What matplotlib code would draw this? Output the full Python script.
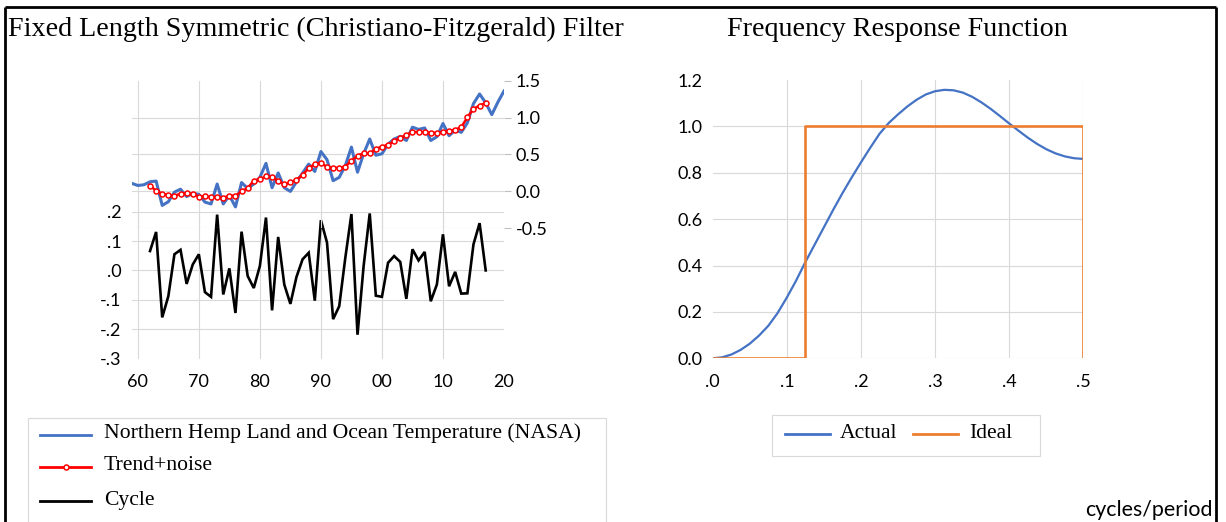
import matplotlib
matplotlib.use("Agg")
import matplotlib.pyplot as plt
from matplotlib.lines import Line2D
from matplotlib.patches import Rectangle

# ---------------- data ----------------
years_temp = list(range(1959, 2021))
temp = [0.11, 0.08, 0.09, 0.13, 0.14, -0.19, -0.14, -0.01, 0.03, -0.07,
        -0.025, -0.04, -0.145, -0.17, 0.10, -0.17, -0.055, -0.21, 0.12, 0.04,
        0.10, 0.19, 0.38, 0.05, 0.25, 0.05, 0.00, 0.13, 0.25, 0.37,
        0.27, 0.54, 0.43, 0.145, 0.19, 0.35, 0.60, 0.26, 0.51, 0.71,
        0.49, 0.51, 0.64, 0.71, 0.745, 0.69, 0.87, 0.84, 0.86, 0.69,
        0.74, 0.92, 0.755, 0.83, 0.80, 0.93, 1.19, 1.32, 1.20, 1.04,
        1.21, 1.36]

years_filt = list(range(1962, 2018))
trend = [0.077, 0.009, -0.032, -0.050, -0.059, -0.032, -0.023, -0.036, -0.072, -0.068,
         -0.077, -0.081, -0.086, -0.059, -0.059, 0.000, 0.045, 0.145, 0.167, 0.204,
         0.190, 0.145, 0.095, 0.122, 0.158, 0.222, 0.317, 0.371, 0.380, 0.335,
         0.317, 0.321, 0.335, 0.416, 0.484, 0.516, 0.516, 0.575, 0.606, 0.633,
         0.679, 0.729, 0.765, 0.805, 0.805, 0.805, 0.792, 0.792, 0.810, 0.819,
         0.837, 0.869, 1.005, 1.118, 1.163, 1.200]
cycle = [0.066, 0.131, -0.160, -0.088, 0.055, 0.070, -0.046, 0.020, 0.055, -0.074,
         -0.090, 0.190, -0.082, 0.007, -0.145, 0.132, -0.019, -0.060, 0.015, 0.180,
         -0.136, 0.114, -0.048, -0.114, -0.022, 0.038, 0.060, -0.103, 0.171, 0.095,
         -0.166, -0.122, 0.043, 0.192, -0.219, 0.015, 0.194, -0.086, -0.090, 0.026,
         0.049, 0.029, -0.097, 0.072, 0.034, 0.063, -0.105, -0.048, 0.123, -0.054,
         -0.005, -0.079, -0.078, 0.089, 0.161, 0.000]

freq = [0.0, 0.0125, 0.025, 0.0375, 0.05, 0.0625, 0.075, 0.0875, 0.1, 0.1125,
        0.125, 0.1375, 0.15, 0.1625, 0.175, 0.1875, 0.2, 0.2125, 0.225, 0.2375,
        0.25, 0.2625, 0.275, 0.2875, 0.3, 0.3125, 0.325, 0.3375, 0.35, 0.3625,
        0.375, 0.3875, 0.4, 0.4125, 0.425, 0.4375, 0.45, 0.4625, 0.475, 0.4875, 0.5]
actual = [0.000, 0.004, 0.016, 0.036, 0.063, 0.098, 0.140, 0.195, 0.262, 0.335,
          0.415, 0.490, 0.565, 0.640, 0.712, 0.780, 0.845, 0.908, 0.968, 1.015,
          1.052, 1.086, 1.115, 1.138, 1.152, 1.158, 1.156, 1.146, 1.128, 1.104,
          1.076, 1.045, 1.013, 0.982, 0.952, 0.925, 0.902, 0.884, 0.871, 0.863, 0.860]
ideal_x = [0.0, 0.125, 0.125, 0.5, 0.5]
ideal_y = [0.0, 0.0, 1.0, 1.0, 0.0]

left_title = "Fixed Length Symmetric (Christiano-Fitzgerald) Filter"
right_title = "Frequency Response Function"
series_left = ["Northern Hemp Land and Ocean Temperature (NASA)", "Trend+noise", "Cycle"]
series_right = ["Actual", "Ideal"]
temp_ticks = [-0.5, 0.0, 0.5, 1.0, 1.5]
cycle_ticks = [-0.3, -0.2, -0.1, 0.0, 0.1, 0.2]
cycle_labels = ["-.3", "-.2", "-.1", ".0", ".1", ".2"]
year_ticks = [1960, 1970, 1980, 1990, 2000, 2010, 2020]
year_labels = ["60", "70", "80", "90", "00", "10", "20"]
freq_ticks = [0.0, 0.1, 0.2, 0.3, 0.4, 0.5]
freq_labels = [".0", ".1", ".2", ".3", ".4", ".5"]
resp_ticks = [0.0, 0.2, 0.4, 0.6, 0.8, 1.0, 1.2]

# ---------------- styling ----------------
BLUE = "#4472C4"
ORANGE = "#ED7D31"
GRID = "#D9D9D9"
SERIF = ["Liberation Serif", "DejaVu Serif"]
SANS = ["Lato", "DejaVu Sans"]
TICK_FS = 13

W, H = 1226, 522
fig = plt.figure(figsize=(W / 100, H / 100), dpi=100)
fig.patch.set_facecolor("white")


def fx(x):
    return x / W


def fy(y):
    return 1 - y / H


def axes_px(l, t, r, b):
    ax = fig.add_axes([l / W, 1 - b / H, (r - l) / W, (b - t) / H])
    ax.patch.set_visible(False)
    for s in ax.spines.values():
        s.set_visible(False)
    return ax


def style_ticks(ax):
    for lab in ax.get_xticklabels() + ax.get_yticklabels():
        lab.set_family(SANS)
        lab.set_fontsize(TICK_FS)


# ---- bottom: cycle (left axis) ----
ax_c = axes_px(131.7, 211.7, 504, 358.5)
ax_c.plot(years_filt, cycle, color="black", lw=1.9, solid_joinstyle="miter")
ax_c.set_xlim(1959, 2020)
ax_c.set_ylim(-0.3, 0.2)
ax_c.set_yticks(cycle_ticks)
ax_c.set_yticklabels(cycle_labels)
ax_c.set_xticks(year_ticks)
ax_c.set_xticklabels(year_labels)
ax_c.tick_params(axis="y", length=0, pad=7.5)
ax_c.tick_params(axis="x", length=0, pad=11)
ax_c.grid(True, color=GRID, lw=0.8)
ax_c.get_ygridlines()[0].set_visible(False)
ax_c.get_xgridlines()[-1].set_visible(False)
style_ticks(ax_c)

# ---- top: temperature & trend (right axis) ----
ax_t = axes_px(131.7, 80.7, 504, 228.3)
ax_t.plot(years_temp, temp, color=BLUE, lw=2.2)
ax_t.plot(years_filt, trend, color="red", lw=1.8, marker="o", ms=3.6,
          mfc="white", mec="red", mew=1.1)
ax_t.set_xlim(1959, 2020)
ax_t.set_ylim(-0.5, 1.5)
ax_t.set_xticks(year_ticks[:-1])
ax_t.tick_params(axis="x", length=0, labelbottom=False)
ax_t.yaxis.tick_right()
ax_t.set_yticks(temp_ticks)
ax_t.set_yticklabels([f"{v:.1f}" for v in temp_ticks])
ax_t.tick_params(axis="y", length=5, width=0.8, color="#BFBFBF", pad=3.5)
ax_t.grid(True, color=GRID, lw=0.8)
ax_t.get_ygridlines()[-1].set_visible(False)
style_ticks(ax_t)

# ---- right: frequency response ----
ax_f = axes_px(712.7, 80.1, 1083.3, 358.3)
ax_f.plot(freq, actual, color=BLUE, lw=1.6)
ax_f.plot(ideal_x, ideal_y, color=ORANGE, lw=1.9)
ax_f.set_xlim(0, 0.5)
ax_f.set_ylim(0, 1.2)
ax_f.set_xticks(freq_ticks)
ax_f.set_xticklabels(freq_labels)
ax_f.set_yticks(resp_ticks)
ax_f.set_yticklabels([f"{v:.1f}" for v in resp_ticks])
ax_f.tick_params(axis="both", length=0)
ax_f.tick_params(axis="y", pad=7.5)
ax_f.tick_params(axis="x", pad=11)
ax_f.grid(True, color=GRID, lw=0.8)
ax_f.get_ygridlines()[-1].set_visible(False)
ax_f.get_xgridlines()[0].set_visible(False)
style_ticks(ax_f)

renderer = fig.canvas.get_renderer()


def fit_text(x, y, s, width, family, ha="left", va="center", base=14.0):
    t = fig.text(fx(x), fy(y), s, family=family, fontsize=base, ha=ha, va=va)
    w = t.get_window_extent(renderer).width
    t.set_fontsize(base * width / w)
    return t


# titles
tt = fit_text(8, 29, left_title, 619, SERIF)
title_fs = tt.get_fontsize()
fig.text(fx(897), fy(29), right_title, family=SERIF, fontsize=title_fs,
         ha="center", va="center")

# outer frame
for xs, ys in [([5, 1216], [7, 7]), ([5, 5], [7, 530]), ([1216, 1216], [7, 530])]:
    fig.add_artist(Line2D([fx(v) for v in xs], [fy(v) for v in ys],
                          color="black", lw=2.0, solid_capstyle="butt"))

# left legend
fig.add_artist(Rectangle((fx(28), fy(540)), (606 - 28) / W, (540 - 418) / H,
                         transform=fig.transFigure, fill=False,
                         edgecolor=GRID, lw=0.8))
lt = fit_text(104, 433, series_left[0], 479, SERIF)
leg_fs = lt.get_fontsize()
fig.add_artist(Line2D([fx(40), fx(91)], [fy(435), fy(435)], color=BLUE, lw=2.0))
fig.add_artist(Line2D([fx(40), fx(91)], [fy(467), fy(467)], color="red", lw=2.0))
fig.add_artist(Line2D([fx(65.5)], [fy(467)], color="red", marker="o", ms=3.6,
                      mfc="white", mec="red", mew=1.1, lw=0))
fig.add_artist(Line2D([fx(40), fx(91)], [fy(501), fy(501)], color="black", lw=2.0))
fig.text(fx(104), fy(466), series_left[1], family=SERIF, fontsize=leg_fs, va="center")
fig.text(fx(104), fy(500), series_left[2], family=SERIF, fontsize=leg_fs, va="center")

# right legend
fig.add_artist(Rectangle((fx(772), fy(456)), (1040 - 772) / W, (456 - 415) / H,
                         transform=fig.transFigure, fill=False,
                         edgecolor=GRID, lw=0.8))
fig.add_artist(Line2D([fx(785), fx(830)], [fy(434), fy(434)], color=BLUE, lw=2.0))
fig.add_artist(Line2D([fx(913), fx(958)], [fy(434), fy(434)], color=ORANGE, lw=2.0))
fig.text(fx(840), fy(434), series_right[0], family=SERIF, fontsize=leg_fs, va="center")
fig.text(fx(969), fy(434), series_right[1], family=SERIF, fontsize=leg_fs, va="center")

# axis unit note
fit_text(1213, 510, "cycles/period", 128, SANS, ha="right")

fig.savefig("out.png", dpi=100, facecolor="white")
